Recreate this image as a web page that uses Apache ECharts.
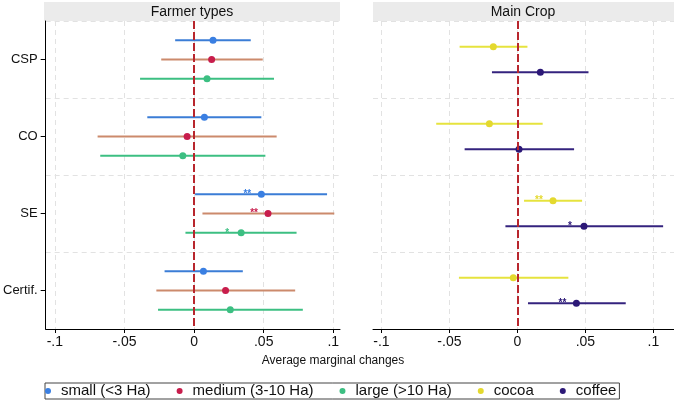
<!DOCTYPE html>
<html>
<head>
<meta charset="utf-8">
<script src="https://cdn.jsdelivr.net/npm/echarts@6/dist/echarts.min.js"></script>
<style>
  html, body { margin: 0; padding: 0; background: #fff; }
  #chart { width: 674px; height: 403px; }
</style>
</head>
<body>
<div id="chart"></div>
<script>
// categories and tick labels
const cats = ['CSP', 'CO', 'SE', 'Certif.'];
const xTicks = [-0.1, -0.05, 0, 0.05, 0.1];

// Farmer types panel: estimate, lower / upper CI, significance stars
const smallEst = [0.0136, 0.0074, 0.0483, 0.0067];
const smallLo = [-0.0136, -0.0336, 0.0007, -0.0212];
const smallHi = [0.0407, 0.0483, 0.0955, 0.0350];
const smallStars = ['', '', '**', ''];

const mediumEst = [0.0126, -0.0050, 0.0531, 0.0226];
const mediumLo = [-0.0236, -0.0693, 0.0060, -0.0271];
const mediumHi = [0.0493, 0.0593, 0.1007, 0.0726];
const mediumStars = ['', '', '**', ''];

const largeEst = [0.0093, -0.0081, 0.0338, 0.0260];
const largeLo = [-0.0388, -0.0674, -0.0062, -0.0259];
const largeHi = [0.0574, 0.0512, 0.0736, 0.0781];
const largeStars = ['', '', '*', ''];

// Main crop panel
const cocoaEst = [-0.0177, -0.0206, 0.0262, -0.0030];
const cocoaLo = [-0.0425, -0.0597, 0.0049, -0.0430];
const cocoaHi = [0.0074, 0.0186, 0.0476, 0.0375];
const cocoaStars = ['', '', '**', ''];

const coffeeEst = [0.0169, 0.0012, 0.0490, 0.0434];
const coffeeLo = [-0.0187, -0.0388, -0.0088, 0.0078];
const coffeeHi = [0.0523, 0.0417, 0.1072, 0.0797];
const coffeeStars = ['', '', '*', '**'];

const FONT = '"Liberation Sans", Arial, sans-serif';

const chart = echarts.init(document.getElementById('chart'));

function fmt(v) {
    if (Math.abs(v) < 1e-9) return '0';
    return String(+v.toFixed(2)).replace('0.', '.');
}

// one group of error bars in one panel; offset = position inside the category band
function group(name, est, lo, hi, stars, offset, panel, dotColor, barColor) {
    const data = est.map((e, i) => [lo[i], hi[i], e, i + offset, stars[i]]);
    return {
        name: name,
        type: 'custom',
        xAxisIndex: panel,
        yAxisIndex: panel * 2 + 1,
        itemStyle: { color: dotColor },
        encode: { x: [0, 1, 2], y: 3 },
        data: data,
        z: 3,
        renderItem(params, api) {
            const y = api.value(3);
            const a = api.coord([api.value(0), y]);
            const b = api.coord([api.value(1), y]);
            const p = api.coord([api.value(2), y]);
            const s = data[params.dataIndex][4];
            return {
                type: 'group',
                children: [
                    { type: 'line', shape: { x1: a[0], y1: a[1], x2: b[0], y2: b[1] },
                      style: { stroke: barColor, lineWidth: 2 } },
                    { type: 'circle', shape: { cx: p[0], cy: p[1], r: 3.5 },
                      style: { fill: dotColor } },
                    { type: 'text', x: p[0] - 14, y: p[1],
                      style: { text: s, fill: dotColor, fontSize: 10, fontWeight: 'bold', fontFamily: FONT,
                               align: 'center', verticalAlign: 'middle' } }
                ]
            };
        }
    };
}

const zeroLine = {
    silent: true,
    symbol: 'none',
    label: { show: false },
    lineStyle: { color: '#b8262d', type: [8, 3], width: 2 },
    data: [{ xAxis: 0 }]
};

function xAxis(idx, min, max) {
    return {
        type: 'value', gridIndex: idx, min: min, max: max,
        axisLine: { show: true, onZero: false, lineStyle: { color: '#000', width: 1 } },
        axisTick: { show: true, length: 4, customValues: xTicks, lineStyle: { color: '#000' } },
        axisLabel: { customValues: xTicks, formatter: fmt, fontSize: 14, color: '#111',
                     fontFamily: FONT, margin: 6 },
        splitLine: { show: true, lineStyle: { color: '#e2e2e2', type: [5, 4], width: 1 } }
    };
}

function yAxes(idx, showLabels) {
    return [{
        type: 'category', gridIndex: idx, data: cats, inverse: true, boundaryGap: true,
        axisLine: { show: showLabels, onZero: false, lineStyle: { color: '#000' } },
        axisTick: { show: showLabels, alignWithLabel: true, length: 5, lineStyle: { color: '#000' } },
        axisLabel: { show: showLabels, fontSize: 13, color: '#111', fontFamily: FONT, margin: 8 },
        splitLine: { show: true, lineStyle: { color: '#e2e2e2', type: [5, 4], width: 1 } }
    }, {
        type: 'value', gridIndex: idx, min: 0, max: 4, inverse: true, show: false,
        axisLine: { onZero: false }
    }];
}

const series = [
    group('small (<3 Ha)', smallEst, smallLo, smallHi, smallStars, 0.25, 0, '#3a7fe2', '#3b7dd6'),
    group('medium (3-10 Ha)', mediumEst, mediumLo, mediumHi, mediumStars, 0.5, 0, '#c81d4c', '#cc8a6c'),
    group('large (>10 Ha)', largeEst, largeLo, largeHi, largeStars, 0.75, 0, '#3cbf82', '#3cbf82'),
    group('cocoa', cocoaEst, cocoaLo, cocoaHi, cocoaStars, 1 / 3, 1, '#e4d92e', '#e6e33e'),
    group('coffee', coffeeEst, coffeeLo, coffeeHi, coffeeStars, 2 / 3, 1, '#2c1877', '#34237e')
];
series[0].markLine = zeroLine;
series[3].markLine = zeroLine;

chart.setOption({
    animation: false,
    textStyle: { fontFamily: FONT },
    grid: [
        { left: 44, top: 21, width: 296, height: 308 },
        { left: 373, top: 21, width: 301, height: 308 }
    ],
    xAxis: [xAxis(0, -0.1066, 0.1048), xAxis(1, -0.1062, 0.1152)],
    yAxis: yAxes(0, true).concat(yAxes(1, false)),
    legend: {
        left: 45, top: 383,
        data: series.map(s => ({ name: s.name, icon: 'circle' })),
        itemWidth: 6, itemHeight: 6, itemGap: 26,
        padding: [0, 3, 0, 0],
        borderColor: '#444', borderWidth: 1,
        textStyle: { fontSize: 15, color: '#111', fontFamily: FONT, lineHeight: 16, padding: [0, 0, 0, 5] },
        selectedMode: false
    },
    graphic: [
        { type: 'rect', left: 44, top: 2, shape: { width: 296, height: 19 }, style: { fill: '#ebebeb' } },
        { type: 'rect', left: 373, top: 2, shape: { width: 301, height: 19 }, style: { fill: '#ebebeb' } },
        { type: 'text', x: 192, y: 12, style: { text: 'Farmer types', fontSize: 14, fill: '#111',
          fontFamily: FONT, align: 'center', verticalAlign: 'middle' } },
        { type: 'text', x: 523, y: 12, style: { text: 'Main Crop', fontSize: 14, fill: '#111',
          fontFamily: FONT, align: 'center', verticalAlign: 'middle' } },
        { type: 'text', x: 333, y: 361, style: { text: 'Average marginal changes', fontSize: 12, fill: '#111',
          fontFamily: FONT, align: 'center', verticalAlign: 'middle' } }
    ],
    series: series
});
</script>
</body>
</html>
